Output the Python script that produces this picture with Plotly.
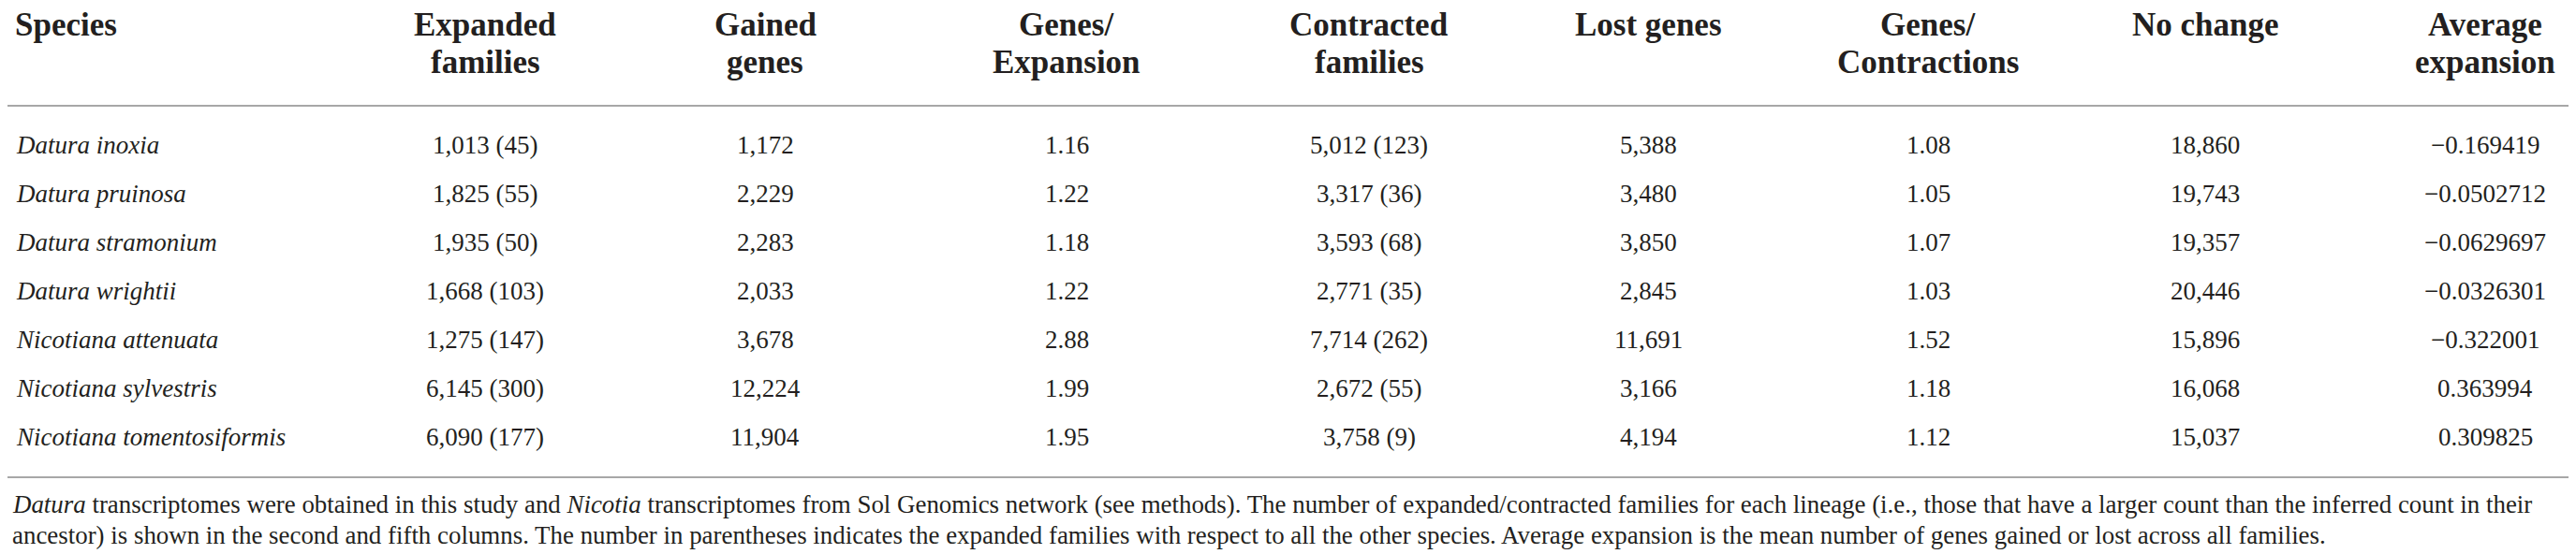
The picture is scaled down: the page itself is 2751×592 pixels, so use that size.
import plotly.graph_objects as go

# Table data
species = ["Datura inoxia", "Datura pruinosa", "Datura stramonium", "Datura wrightii",
           "Nicotiana attenuata", "Nicotiana sylvestris", "Nicotiana tomentosiformis"]
expanded_families = ["1,013 (45)", "1,825 (55)", "1,935 (50)", "1,668 (103)",
                     "1,275 (147)", "6,145 (300)", "6,090 (177)"]
gained_genes = [1172, 2229, 2283, 2033, 3678, 12224, 11904]
genes_per_expansion = [1.16, 1.22, 1.18, 1.22, 2.88, 1.99, 1.95]
contracted_families = ["5,012 (123)", "3,317 (36)", "3,593 (68)", "2,771 (35)",
                       "7,714 (262)", "2,672 (55)", "3,758 (9)"]
lost_genes = [5388, 3480, 3850, 2845, 11691, 3166, 4194]
genes_per_contraction = [1.08, 1.05, 1.07, 1.03, 1.52, 1.18, 1.12]
no_change = [18860, 19743, 19357, 20446, 15896, 16068, 15037]
average_expansion = [-0.169419, -0.0502712, -0.0629697, -0.0326301, -0.322001, 0.363994, 0.309825]

headers = [["Expanded", "families"], ["Gained", "genes"], ["Genes/", "Expansion"],
           ["Contracted", "families"], ["Lost genes"], ["Genes/", "Contractions"],
           ["No change"], ["Average", "expansion"]]

caption = ["<i>Datura</i> transcriptomes were obtained in this study and <i>Nicotia</i> transcriptomes "
           "from Sol Genomics network (see methods). The number of expanded/contracted families for "
           "each lineage (i.e., those that have a larger count than the inferred count in their",
           "ancestor) is shown in the second and fifth columns. The number in parentheses indicates the "
           "expanded families with respect to all the other species. Average expansion is the mean "
           "number of genes gained or lost across all families."]


def fmt_avg(v):
    # typographic minus like the journal table
    return str(v).replace("-", "\u2212")


columns = [
    expanded_families,
    [f"{v:,}" for v in gained_genes],
    [f"{v:.2f}" for v in genes_per_expansion],
    contracted_families,
    [f"{v:,}" for v in lost_genes],
    [f"{v:.2f}" for v in genes_per_contraction],
    [f"{v:,}" for v in no_change],
    [fmt_avg(v) for v in average_expansion],
]

W, H = 2751, 592
col_x = [510, 809, 1131, 1454, 1752, 2051, 2347, 2646]
row_y0, row_step = 147, 52
FONT = "Liberation Serif"
INK = "#231f20"
RULE = "#a7a7a7"

fig = go.Figure()
anns = []

# header
anns.append(dict(x=6, y=18, text="<b>Species</b>", xanchor="left", yanchor="middle",
                 font=dict(size=35, family=FONT, color=INK)))
for cx, lines in zip(col_x, headers):
    for j, t in enumerate(lines):
        anns.append(dict(x=cx, y=18 + 40 * j, text=f"<b>{t}</b>", xanchor="center", yanchor="middle",
                         font=dict(size=35, family=FONT, color=INK)))

# body
for i, sp in enumerate(species):
    y = row_y0 + row_step * i
    anns.append(dict(x=7, y=y, text=f"<i>{sp}</i>", xanchor="left", yanchor="middle",
                     font=dict(size=27, family=FONT, color=INK)))
    for cx, col in zip(col_x, columns):
        anns.append(dict(x=cx, y=y, text=col[i], xanchor="center", yanchor="middle",
                         font=dict(size=27, family=FONT, color=INK)))

# caption
for j, t in enumerate(caption):
    anns.append(dict(x=3, y=531 + 33 * j, text=t, xanchor="left", yanchor="middle",
                     font=dict(size=26.9, family=FONT, color=INK)))

for a in anns:
    a.update(xref="x", yref="y", showarrow=False)

shapes = [
    dict(type="line", xref="x", yref="y", x0=0, x1=2748, y0=105, y1=105,
         line=dict(color=RULE, width=2)),
    dict(type="line", xref="x", yref="y", x0=0, x1=2748, y0=502, y1=502,
         line=dict(color=RULE, width=2)),
]

fig.update_layout(
    width=W, height=H,
    margin=dict(l=0, r=0, t=0, b=0),
    paper_bgcolor="white", plot_bgcolor="white",
    annotations=anns, shapes=shapes,
    showlegend=False,
)
fig.update_xaxes(visible=False, range=[0, W], fixedrange=True)
fig.update_yaxes(visible=False, range=[H, 0], fixedrange=True)

fig.write_html("out.html", config={"displayModeBar": False})
